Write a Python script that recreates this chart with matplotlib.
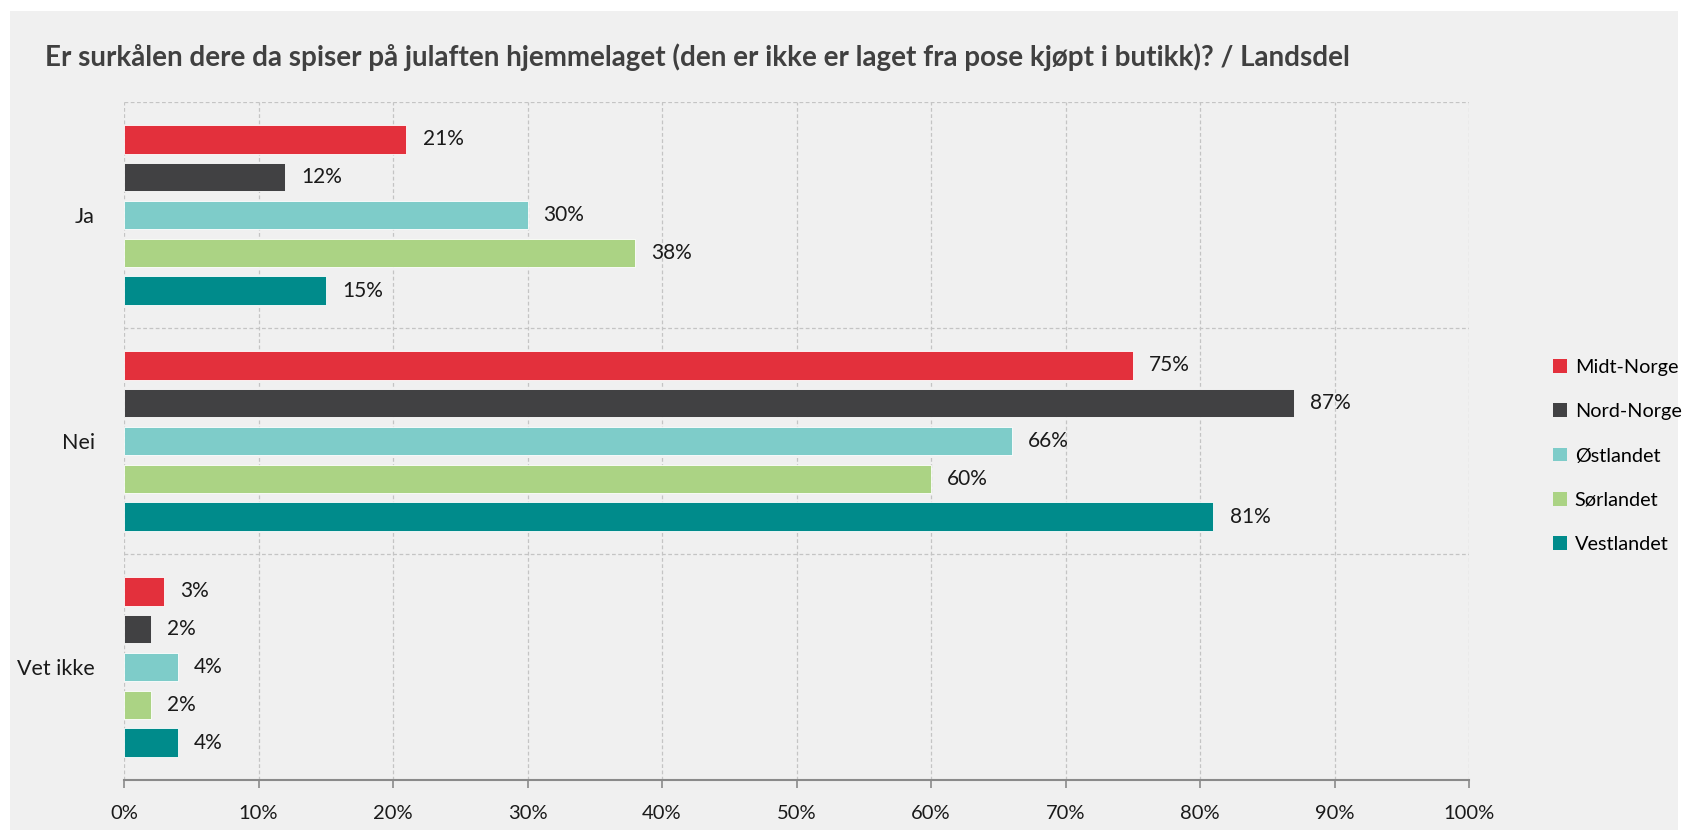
import matplotlib.pyplot as plt
import numpy as np
from matplotlib.patches import Rectangle

plt.rcParams['font.family'] = ['Lato', 'DejaVu Sans']

answers = ['Ja', 'Nei', 'Vet ikke']
regions = ['Midt-Norge', 'Nord-Norge', 'Østlandet', 'Sørlandet', 'Vestlandet']
values = {
    'Midt-Norge': [21, 75, 3],
    'Nord-Norge': [12, 87, 2],
    'Østlandet': [30, 66, 4],
    'Sørlandet': [38, 60, 2],
    'Vestlandet': [15, 81, 4],
}
colors = ['#E3303C', '#414143', '#7ECCC9', '#ABD384', '#008B8B']
ticks = np.arange(0, 101, 10)

bg = '#F0F0F0'
fig = plt.figure(figsize=(16.88, 8.30), dpi=100)
fig.patch.set_facecolor('white')
# grey panel behind everything
fig.patches.append(Rectangle((10/1688, 0), 1 - 20/1688, 1 - 11/830, transform=fig.transFigure,
                             facecolor=bg, edgecolor='none', zorder=-10))

ax = fig.add_axes([124/1688, 1 - 780/830, (1469-124)/1688, (780-102)/830])
ax.set_facecolor(bg)

y = np.arange(len(answers))
pitch = 0.168
h = 0.128
for i, (reg, col) in enumerate(zip(regions, colors)):
    pos = y + (i - 2) * pitch
    vals = values[reg]
    ax.barh(pos, vals, height=h, color=col, edgecolor='white', linewidth=0.6, zorder=3)
    for p, v in zip(pos, vals):
        ax.text(v + 1.2, p, f'{v}%', va='center', ha='left', fontsize=15, color='#1a1a1a', zorder=4)

ax.set_xlim(0, 100)
ax.set_ylim(2.5, -0.5)
ax.set_xticks(ticks)
ax.set_xticklabels([f'{t}%' for t in ticks], fontsize=14.5, color='#1a1a1a')
ax.set_yticks(y)
ax.set_yticklabels(answers, fontsize=15.5, color='#1a1a1a')
ax.tick_params(axis='y', length=0, pad=21)
ax.tick_params(axis='x', length=6, width=1.2, color='#8a8a8a', pad=12)

for t in ticks:
    ax.axvline(t, color='#c4c4c4', linestyle=(0, (3, 2)), linewidth=0.9, zorder=1)
for b in [-0.5, 0.5, 1.5]:
    ax.axhline(b, color='#c4c4c4', linestyle=(0, (3, 2)), linewidth=0.9, zorder=1)

for s in ['top', 'right', 'left']:
    ax.spines[s].set_visible(False)
ax.spines['bottom'].set_color('#8a8a8a')
ax.spines['bottom'].set_linewidth(1.5)

fig.text(45/1688, 1 - 57/830,
         'Er surkålen dere da spiser på julaften hjemmelaget (den er ikke er laget fra pose kjøpt i butikk)? / Landsdel',
         fontsize=20, fontweight='bold', color='#404040', va='center', ha='left')

handles = [Rectangle((0, 0), 1, 1, facecolor=c, edgecolor='none') for c in colors]
leg = fig.legend(handles, regions, loc='center left', bbox_to_anchor=(1535/1688, 1 - 456/830),
                 frameon=False, fontsize=14.3, handlelength=0.7, handleheight=0.7,
                 handletextpad=0.4, labelspacing=1.38)

fig.savefig('out.png', dpi=100, facecolor=fig.get_facecolor())
